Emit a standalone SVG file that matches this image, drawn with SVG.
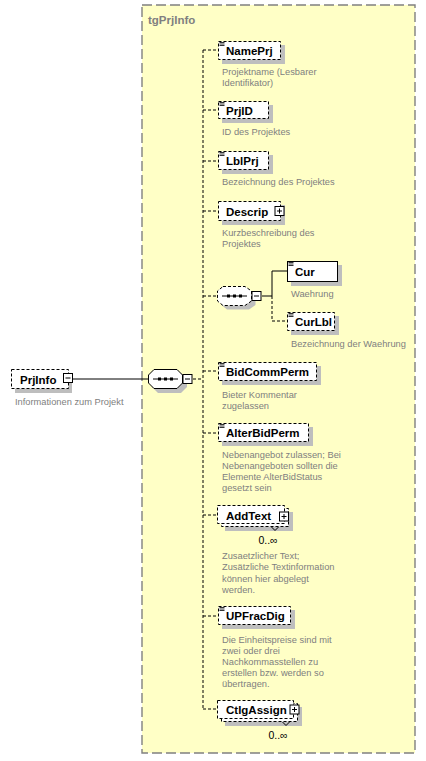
<svg xmlns="http://www.w3.org/2000/svg" width="426" height="761" viewBox="0 0 426 761">
<style>
.grp{fill:#FFFFC6;stroke:#808080;stroke-width:1.4;stroke-dasharray:10,4}
.box{fill:#fff;stroke:#000;stroke-width:1}
.opt{fill:#fff;stroke:#000;stroke-width:1;stroke-dasharray:3,2}
.sh{fill:#BEBEBE}
.lbl{font-family:"Liberation Sans",Arial,sans-serif;font-weight:bold;font-size:11.5px;fill:#000}
.ttl{font-family:"Liberation Sans",Arial,sans-serif;font-weight:bold;font-size:11.5px;fill:#808080}
.dsc{font-family:"Liberation Sans",Arial,sans-serif;font-size:9.3px;fill:#808080}
.card{font-family:"Liberation Sans",Arial,sans-serif;font-size:10.5px;fill:#000}
.btn{fill:#fff;stroke:#000;stroke-width:1}
.sol{fill:none;stroke:#000;stroke-width:1}
.dsh{fill:none;stroke:#000;stroke-width:1;stroke-dasharray:3,2}
.ico{stroke:#000;stroke-width:0.8}
</style>
<defs>
<g id="icon"><line class="ico" x1="0" y1="0.5" x2="5" y2="0.5"/><line class="ico" x1="0" y1="2" x2="5" y2="2"/><line class="ico" x1="0" y1="3.5" x2="5" y2="3.5"/></g>
<g id="minus"><rect class="btn" x="0.5" y="0.5" width="9" height="9"/><line class="ico" x1="2.5" y1="5" x2="7.5" y2="5" style="stroke-width:1"/></g>
<g id="plus"><rect class="btn" x="0.5" y="0.5" width="9" height="9"/><line class="ico" x1="2.5" y1="5" x2="7.5" y2="5" style="stroke-width:1"/><line class="ico" x1="5" y1="2.5" x2="5" y2="7.5" style="stroke-width:1"/></g>
</defs>

<g id="tgPrjInfo">
<rect class="grp" x="142" y="5" width="273" height="748"/>
<text class="ttl" x="148" y="24">tgPrjInfo</text>
</g>

<g id="connectors">
<line class="sol" x1="73" y1="379" x2="148" y2="379"/>
<line class="dsh" x1="193" y1="379" x2="203" y2="379"/>
<line class="dsh" x1="203" y1="50" x2="203" y2="709"/>
<line class="dsh" x1="203" y1="50" x2="218" y2="50"/>
<line class="dsh" x1="203" y1="110" x2="218" y2="110"/>
<line class="dsh" x1="203" y1="161" x2="218" y2="161"/>
<line class="dsh" x1="203" y1="211" x2="218" y2="211"/>
<line class="dsh" x1="203" y1="296" x2="217" y2="296"/>
<line class="dsh" x1="203" y1="371" x2="218" y2="371"/>
<line class="dsh" x1="203" y1="433" x2="218" y2="433"/>
<line class="dsh" x1="203" y1="515" x2="218" y2="515"/>
<line class="dsh" x1="203" y1="616" x2="218" y2="616"/>
<line class="dsh" x1="203" y1="709" x2="218" y2="709"/>
<polyline class="sol" points="262,296 272,296 272,271 287,271"/>
<polyline class="dsh" points="272,296 272,321 287,321"/>
</g>

<g id="PrjInfo">
<rect class="sh" x="15" y="373" width="57" height="20"/>
<rect class="opt" x="11.5" y="369.5" width="57" height="19"/>
<text class="lbl" x="20" y="384">PrjInfo</text>
<use href="#minus" x="63" y="373"/>
<text class="dsc" x="15" y="405">Informationen zum Projekt</text>
</g>

<g id="seq1">
<polygon class="sh" points="158,373 181,373 187,379 187,387 181,393 158,393 152,387 152,379"/>
<polygon class="box" points="154,369.5 177,369.5 182.5,375 182.5,383 177,388.5 154,388.5 148.5,383 148.5,375"/>
<line class="sol" x1="153" y1="379" x2="178" y2="379"/>
<rect x="158" y="377.5" width="3" height="3"/><rect x="164" y="377.5" width="3" height="3"/><rect x="170" y="377.5" width="3" height="3"/>
<use href="#minus" x="182.5" y="374"/>
</g>

<g id="NamePrj">
<rect class="sh" x="222" y="45" width="63" height="19"/>
<rect class="opt" x="218.5" y="41.5" width="62" height="18"/>
<use href="#icon" x="219.5" y="42"/>
<text class="lbl" x="226" y="55">NamePrj</text>
<text class="dsc" x="222" y="75">Projektname (Lesbarer</text>
<text class="dsc" x="222" y="86">Identifikator)</text>
</g>

<g id="PrjID">
<rect class="sh" x="222" y="105" width="51" height="18"/>
<rect class="opt" x="218.5" y="101.5" width="50" height="17"/>
<use href="#icon" x="219.5" y="102"/>
<text class="lbl" x="226" y="115">PrjID</text>
<text class="dsc" x="222" y="135">ID des Projektes</text>
</g>

<g id="LblPrj">
<rect class="sh" x="222" y="155" width="51" height="19"/>
<rect class="opt" x="218.5" y="151.5" width="50" height="18"/>
<use href="#icon" x="219.5" y="152"/>
<text class="lbl" x="226" y="165">LblPrj</text>
<text class="dsc" x="222" y="185">Bezeichnung des Projektes</text>
</g>

<g id="Descrip">
<rect class="sh" x="222" y="205" width="63" height="20"/>
<rect class="opt" x="218.5" y="201.5" width="62" height="19"/>
<text class="lbl" x="226" y="216">Descrip</text>
<use href="#plus" x="274.5" y="206"/>
<text class="dsc" x="222" y="236">Kurzbeschreibung des</text>
<text class="dsc" x="222" y="247">Projektes</text>
</g>

<g id="seq2">
<polygon class="sh" points="227,290.5 249,290.5 255.5,295 255.5,305 249,309.5 227,309.5 221.5,305 221.5,295"/>
<polygon class="opt" points="223,286.5 245,286.5 251.5,291 251.5,301 245,305.5 223,305.5 217.5,301 217.5,291"/>
<line class="sol" x1="222" y1="296" x2="247" y2="296"/>
<rect x="227" y="294.5" width="3" height="3"/><rect x="233" y="294.5" width="3" height="3"/><rect x="239" y="294.5" width="3" height="3"/>
<use href="#minus" x="251.5" y="291"/>
</g>

<g id="Cur">
<rect class="sh" x="291" y="265" width="51" height="21"/>
<rect class="box" x="287.5" y="261.5" width="50" height="20"/>
<use href="#icon" x="288.5" y="262"/>
<text class="lbl" x="295" y="276">Cur</text>
<text class="dsc" x="291" y="297">Waehrung</text>
</g>

<g id="CurLbl">
<rect class="sh" x="291" y="316" width="48" height="19"/>
<rect class="opt" x="287.5" y="312.5" width="47" height="18"/>
<use href="#icon" x="288.5" y="313"/>
<text class="lbl" x="295" y="326">CurLbl</text>
<text class="dsc" x="291" y="347">Bezeichnung der Waehrung</text>
</g>

<g id="BidCommPerm">
<rect class="sh" x="222" y="366" width="99" height="19"/>
<rect class="opt" x="218.5" y="362.5" width="98" height="18"/>
<use href="#icon" x="219.5" y="363"/>
<text class="lbl" x="226" y="376">BidCommPerm</text>
<text class="dsc" x="222" y="398">Bieter Kommentar</text>
<text class="dsc" x="222" y="409">zugelassen</text>
</g>

<g id="AlterBidPerm">
<rect class="sh" x="222" y="427" width="91" height="19"/>
<rect class="opt" x="218.5" y="423.5" width="90" height="18"/>
<use href="#icon" x="219.5" y="424"/>
<text class="lbl" x="226" y="437">AlterBidPerm</text>
<text class="dsc" x="222" y="458">Nebenangebot zulassen; Bei</text>
<text class="dsc" x="222" y="469">Nebenangeboten sollten die</text>
<text class="dsc" x="222" y="480">Elemente AlterBidStatus</text>
<text class="dsc" x="222" y="491">gesetzt sein</text>
</g>

<g id="AddText">
<rect class="sh" x="225" y="512" width="68" height="19"/>
<rect class="opt" x="221.5" y="508.5" width="67" height="18"/>
<rect class="opt" x="217.5" y="505.5" width="67" height="18"/>
<text class="lbl" x="226" y="520">AddText</text>
<use href="#plus" x="279" y="511.5"/>
<polyline class="sol" points="271.5,527 275,530.5 278.5,527"/>
<text class="card" x="268" y="544" text-anchor="middle">0..∞</text>
<text class="dsc" x="222" y="559">Zusaetzlicher Text;</text>
<text class="dsc" x="222" y="570">Zusätzliche Textinformation</text>
<text class="dsc" x="222" y="582">können hier abgelegt</text>
<text class="dsc" x="222" y="593">werden.</text>
</g>

<g id="UPFracDig">
<rect class="sh" x="222" y="610" width="73" height="19"/>
<rect class="opt" x="218.5" y="606.5" width="72" height="18"/>
<use href="#icon" x="219.5" y="607"/>
<text class="lbl" x="226" y="620">UPFracDig</text>
<text class="dsc" x="222" y="643">Die Einheitspreise sind mit</text>
<text class="dsc" x="222" y="654">zwei oder drei</text>
<text class="dsc" x="222" y="665">Nachkommasstellen zu</text>
<text class="dsc" x="222" y="676">erstellen bzw. werden so</text>
<text class="dsc" x="222" y="687">übertragen.</text>
</g>

<g id="CtlgAssign">
<rect class="sh" x="225" y="707" width="77" height="19"/>
<rect class="opt" x="221.5" y="703.5" width="76" height="18"/>
<rect class="opt" x="217.5" y="700.5" width="76" height="18"/>
<text class="lbl" x="226" y="714">CtlgAssign</text>
<use href="#plus" x="289.5" y="704.5"/>
<polyline class="sol" points="282.5,722 286,725.5 289.5,722"/>
<text class="card" x="278" y="739" text-anchor="middle">0..∞</text>
</g>
</svg>
